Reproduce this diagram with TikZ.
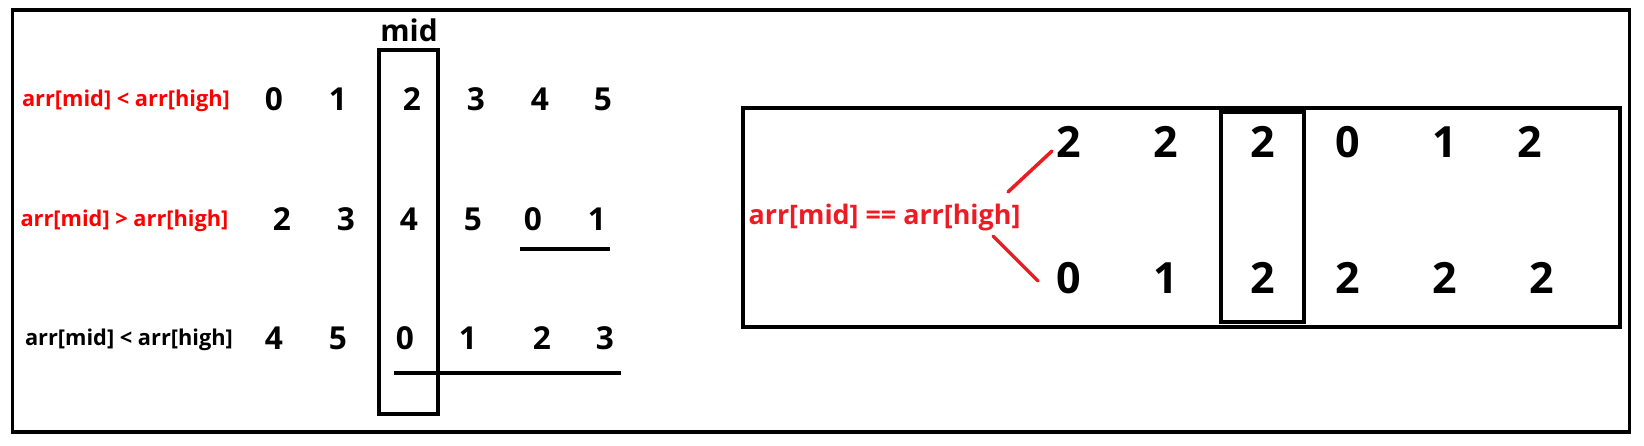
\documentclass[tikz,border=0pt]{standalone}
\usepackage{fontspec}
\setmainfont{Open Sans}
\usetikzlibrary{positioning}
\definecolor{condred}{HTML}{FF0000}
\definecolor{penred}{HTML}{ED1C24}
\definecolor{darkline}{HTML}{000000}
\tikzset{
  frame/.style={rectangle, draw=darkline, line width=2pt, inner sep=0pt},
  digit/.style={font=\fontsize{18}{20}\selectfont\bfseries, inner sep=0pt},
  bigdigit/.style={font=\fontsize{24.5}{27}\selectfont\bfseries, inner sep=0pt},
  cond/.style={font=\fontsize{12.4}{14}\selectfont\bfseries, text=condred, inner sep=0pt},
  sortedline/.style={draw=darkline, line width=2pt},
  pen/.style={draw=penred, line width=2pt, line cap=round}
}

\begin{document}
\begin{tikzpicture}[x=0.02cm, y=-0.02cm]
\useasboundingbox (0,0) rectangle (1644,446);

\node[frame, minimum width=1617*0.02cm, minimum height=422*0.02cm] (outer) at (821, 221) {};

% left part: three rotated arrays
\node[font=\fontsize{17}{18}\selectfont\bfseries, inner sep=0pt] (midlabel) at (409, 30) {mid};
\node[frame, minimum width=59*0.02cm, minimum height=364*0.02cm] (midcol) at (408.5, 232) {};

\node[cond] (condA) at (126, 101) {arr[mid] < arr[high]};
\node[digit] (a1) at (274, 99) {0};
\node[digit] (a2) at (338, 99) {1};
\node[digit] (a3) at (412, 99) {2};
\node[digit] (a4) at (476, 99) {3};
\node[digit] (a5) at (540, 99) {4};
\node[digit] (a6) at (603, 99) {5};

\node[cond] (condB) at (124.5, 221) {arr[mid] > arr[high]};
\node[digit] (b1) at (282, 219) {2};
\node[digit] (b2) at (346, 219) {3};
\node[digit] (b3) at (409, 219) {4};
\node[digit] (b4) at (473, 219) {5};
\node[digit] (b5) at (533, 219) {0};
\node[digit] (b6) at (597, 219) {1};

\node[cond, text=darkline] (condC) at (129, 340) {arr[mid] < arr[high]};
\node[digit] (c1) at (274, 338) {4};
\node[digit] (c2) at (338, 338) {5};
\node[digit] (c3) at (405, 338) {0};
\node[digit] (c4) at (468, 338) {1};
\node[digit] (c5) at (542, 338) {2};
\node[digit] (c6) at (605, 338) {3};

\coordinate (bstart) at (520, 249);
\coordinate (bend) at (610, 249);
\draw[sortedline] (bstart) -- (bend);
\coordinate (cstart) at (394, 373);
\coordinate (cend) at (621, 373);
\draw[sortedline] (cstart) -- (cend);

% right part: equal case
\node[frame, minimum width=877*0.02cm, minimum height=219*0.02cm] (eqbox) at (1181.5, 217.5) {};
\node[frame, minimum width=83*0.02cm, minimum height=210*0.02cm] (eqmid) at (1262.5, 217) {};

\node[cond, text=penred, font=\fontsize{15.3}{17}\selectfont\bfseries] (condD) at (884.5, 218) {arr[mid] == arr[high]};

\node[bigdigit] (p1) at (1069, 142) {2};
\node[bigdigit] (p2) at (1166, 142) {2};
\node[bigdigit] (p3) at (1263, 142) {2};
\node[bigdigit] (p4) at (1348, 142) {0};
\node[bigdigit] (p5) at (1445, 142) {1};
\node[bigdigit] (p6) at (1530, 142) {2};

\node[bigdigit] (q1) at (1069, 278) {0};
\node[bigdigit] (q2) at (1166, 278) {1};
\node[bigdigit] (q3) at (1263, 278) {2};
\node[bigdigit] (q4) at (1348, 278) {2};
\node[bigdigit] (q5) at (1445, 278) {2};
\node[bigdigit] (q6) at (1542, 278) {2};

\coordinate (upfrom) at (1008, 192);
\coordinate (upto) at (1052, 151);
\coordinate (downfrom) at (993, 236);
\coordinate (downto) at (1038, 281);
\draw[pen] (upfrom) -- (upto);
\draw[pen] (downfrom) -- (downto);

\end{tikzpicture}
\end{document}
